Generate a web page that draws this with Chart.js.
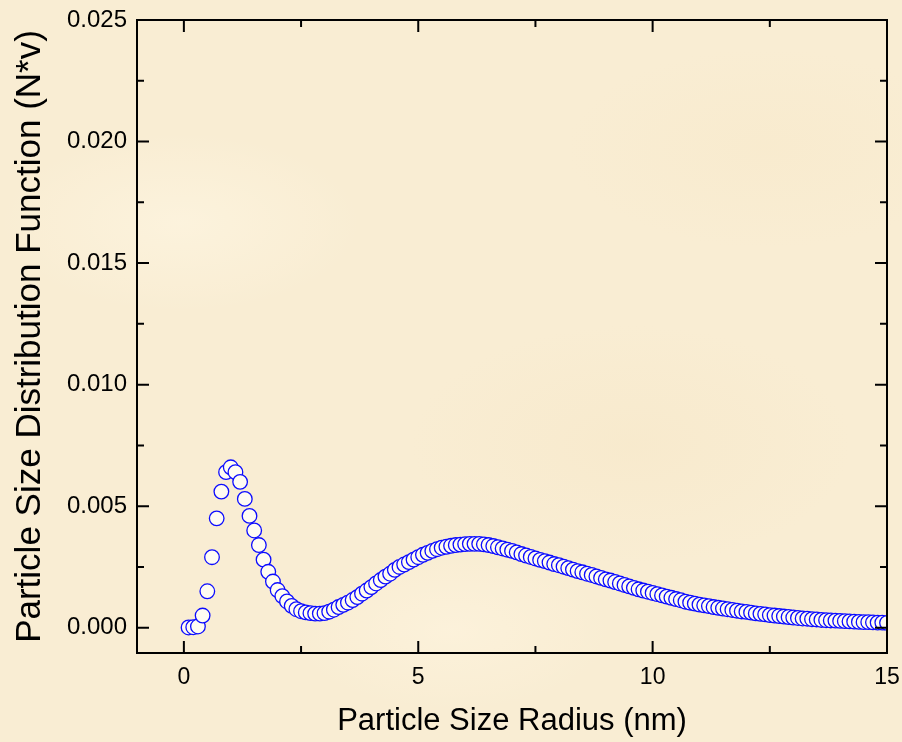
<!DOCTYPE html>
<html>
<head>
<meta charset="utf-8">
<script src="https://cdn.jsdelivr.net/npm/chart.js@4.4.1/dist/chart.umd.min.js"></script>
<style>
  html, body { margin: 0; padding: 0; }
  body {
    width: 902px; height: 742px; overflow: hidden;
    background-color: #f9edd3;
    background-image:
      radial-gradient(ellipse 180px 90px at 20% 30%, rgba(255,248,230,0.5), transparent),
      radial-gradient(ellipse 220px 120px at 70% 60%, rgba(245,228,194,0.35), transparent),
      radial-gradient(ellipse 160px 80px at 50% 85%, rgba(255,246,226,0.5), transparent),
      radial-gradient(ellipse 200px 100px at 85% 20%, rgba(247,231,198,0.35), transparent);
  }
  #wrap { position: relative; width: 902px; height: 742px; }
</style>
</head>
<body>
<div id="wrap"><canvas id="chart"></canvas></div>
<script>
// radius (nm)
const radius = [
  0.1, 0.2, 0.3, 0.4, 0.5, 0.6, 0.7, 0.8, 0.9, 1.0,
  1.1, 1.2, 1.3, 1.4, 1.5, 1.6, 1.7, 1.8, 1.9, 2.0,
  2.1, 2.2, 2.3, 2.4, 2.5, 2.6, 2.7, 2.8, 2.9, 3.0,
  3.1, 3.2, 3.3, 3.4, 3.5, 3.6, 3.7, 3.8, 3.9, 4.0,
  4.1, 4.2, 4.3, 4.4, 4.5, 4.6, 4.7, 4.8, 4.9, 5.0,
  5.1, 5.2, 5.3, 5.4, 5.5, 5.6, 5.7, 5.8, 5.9, 6.0,
  6.1, 6.2, 6.3, 6.4, 6.5, 6.6, 6.7, 6.8, 6.9, 7.0,
  7.1, 7.2, 7.3, 7.4, 7.5, 7.6, 7.7, 7.8, 7.9, 8.0,
  8.1, 8.2, 8.3, 8.4, 8.5, 8.6, 8.7, 8.8, 8.9, 9.0,
  9.1, 9.2, 9.3, 9.4, 9.5, 9.6, 9.7, 9.8, 9.9, 10.0,
  10.1, 10.2, 10.3, 10.4, 10.5, 10.6, 10.7, 10.8, 10.9, 11.0,
  11.1, 11.2, 11.3, 11.4, 11.5, 11.6, 11.7, 11.8, 11.9, 12.0,
  12.1, 12.2, 12.3, 12.4, 12.5, 12.6, 12.7, 12.8, 12.9, 13.0,
  13.1, 13.2, 13.3, 13.4, 13.5, 13.6, 13.7, 13.8, 13.9, 14.0,
  14.1, 14.2, 14.3, 14.4, 14.5, 14.6, 14.7, 14.8, 14.9, 15.0
];

// distribution function N*v
const distribution = [
  0.00001, 0.00002, 0.00005, 0.00050, 0.00150, 0.00290, 0.00450, 0.00560, 0.00640, 0.00660,
  0.00640, 0.00600, 0.00530, 0.00460, 0.00400, 0.00340, 0.00280, 0.00230, 0.00190, 0.00155,
  0.00130, 0.00108, 0.00090, 0.00076, 0.00068, 0.00063, 0.00060, 0.00058, 0.00058, 0.00060,
  0.00066, 0.00074, 0.00085, 0.00094, 0.00103, 0.00114, 0.00126, 0.00140, 0.00153, 0.00167,
  0.00182, 0.00196, 0.00210, 0.00222, 0.00238, 0.00250, 0.00260, 0.00270, 0.00280, 0.00290,
  0.00300, 0.00308, 0.00316, 0.00323, 0.00329, 0.00333, 0.00337, 0.00340, 0.00342, 0.00344,
  0.00345, 0.00345, 0.00345, 0.00343, 0.00340, 0.00336, 0.00331, 0.00326, 0.00321, 0.00316,
  0.00310, 0.00303, 0.00297, 0.00291, 0.00285, 0.00279, 0.00274, 0.00268, 0.00262, 0.00257,
  0.00251, 0.00245, 0.00239, 0.00233, 0.00228, 0.00222, 0.00217, 0.00211, 0.00205, 0.00199,
  0.00194, 0.00188, 0.00182, 0.00176, 0.00170, 0.00164, 0.00158, 0.00153, 0.00148, 0.00143,
  0.00138, 0.00133, 0.00128, 0.00123, 0.00118, 0.00113, 0.00107, 0.00103, 0.00099, 0.00095,
  0.00092, 0.00089, 0.00085, 0.00082, 0.00079, 0.00076, 0.00073, 0.00070, 0.00067, 0.00065,
  0.00062, 0.00059, 0.00057, 0.00055, 0.00052, 0.00050, 0.00048, 0.00046, 0.00044, 0.00042,
  0.00040, 0.00038, 0.00037, 0.00035, 0.00034, 0.00032, 0.00031, 0.00030, 0.00029, 0.00028,
  0.00027, 0.00026, 0.00025, 0.00024, 0.00023, 0.00023, 0.00022, 0.00021, 0.00021, 0.00020
];

const xTicks = [0, 5, 10, 15];
const xMinorTicks = [2.5, 7.5, 12.5];
const yTicks = [0, 0.005, 0.010, 0.015, 0.020, 0.025];
const yMinorTicks = [0.0025, 0.0075, 0.0125, 0.0175, 0.0225];

const FONT = 'Arial, "Liberation Sans", sans-serif';

// frame + inward ticks on all four sides
const framePlugin = {
    id: 'frame',
    afterDatasetsDraw(chart) {
        const { ctx, chartArea: a, scales } = chart;
        const xs = scales.x, ys = scales.y;
        ctx.save();
        ctx.strokeStyle = '#000';
        ctx.lineWidth = 2;
        ctx.strokeRect(a.left, a.top, a.right - a.left, a.bottom - a.top);
        ctx.beginPath();
        const xTick = (v, len) => {
            const px = xs.getPixelForValue(v);
            ctx.moveTo(px, a.bottom); ctx.lineTo(px, a.bottom - len);
            ctx.moveTo(px, a.top); ctx.lineTo(px, a.top + len);
        };
        const yTick = (v, len) => {
            const py = ys.getPixelForValue(v);
            ctx.moveTo(a.left, py); ctx.lineTo(a.left + len, py);
            ctx.moveTo(a.right, py); ctx.lineTo(a.right - len, py);
        };
        xTicks.forEach(v => xTick(v, 12));
        xMinorTicks.forEach(v => xTick(v, 7));
        yTicks.forEach(v => yTick(v, 12));
        yMinorTicks.forEach(v => yTick(v, 7));
        ctx.stroke();
        ctx.restore();
    }
};

const points = radius.map((r, i) => ({ x: r, y: distribution[i] }));

new Chart(document.getElementById('chart').getContext('2d'), {
    type: 'scatter',
    data: {
        datasets: [{
            data: points,
            pointStyle: 'circle',
            pointRadius: 7.3,
            pointHoverRadius: 7.3,
            pointBorderWidth: 1.3,
            borderColor: '#0c0cff',
            pointBorderColor: '#0c0cff',
            pointBackgroundColor: '#fffcf2',
            showLine: false,
            clip: 0
        }]
    },
    options: {
        responsive: true,
        maintainAspectRatio: false,
        animation: false,
        events: [],
        layout: { padding: { left: 0, right: 15, top: 20, bottom: 0 } },
        plugins: { legend: { display: false }, tooltip: { enabled: false } },
        scales: {
            x: {
                type: 'linear',
                min: -1,
                max: 15,
                grid: { display: false, drawTicks: false },
                border: { display: false },
                afterBuildTicks: s => { s.ticks = xTicks.map(v => ({ value: v })); },
                afterFit: s => { s.height = 89; s.paddingLeft = 0; s.paddingRight = 0; },
                ticks: {
                    color: '#000',
                    padding: 11,
                    maxRotation: 0,
                    font: { family: FONT, size: 23 },
                    callback: v => String(v)
                },
                title: {
                    display: true,
                    text: 'Particle Size Radius (nm)',
                    color: '#000',
                    font: { family: FONT, size: 31 },
                    padding: { top: 0, bottom: 2 }
                }
            },
            y: {
                type: 'linear',
                min: -0.00104,
                max: 0.025,
                grid: { display: false, drawTicks: false },
                border: { display: false },
                afterBuildTicks: s => { s.ticks = yTicks.map(v => ({ value: v })); },
                afterFit: s => { s.width = 137; s.paddingTop = 0; s.paddingBottom = 0; },
                ticks: {
                    color: '#000',
                    padding: 10,
                    font: { family: FONT, size: 24 },
                    callback: v => v.toFixed(3)
                },
                title: {
                    display: true,
                    text: 'Particle Size Distribution Function (N*v)',
                    color: '#000',
                    font: { family: FONT, size: 35 },
                    padding: { top: 9, bottom: 0 }
                }
            }
        }
    },
    plugins: [framePlugin]
});
</script>
</body>
</html>
